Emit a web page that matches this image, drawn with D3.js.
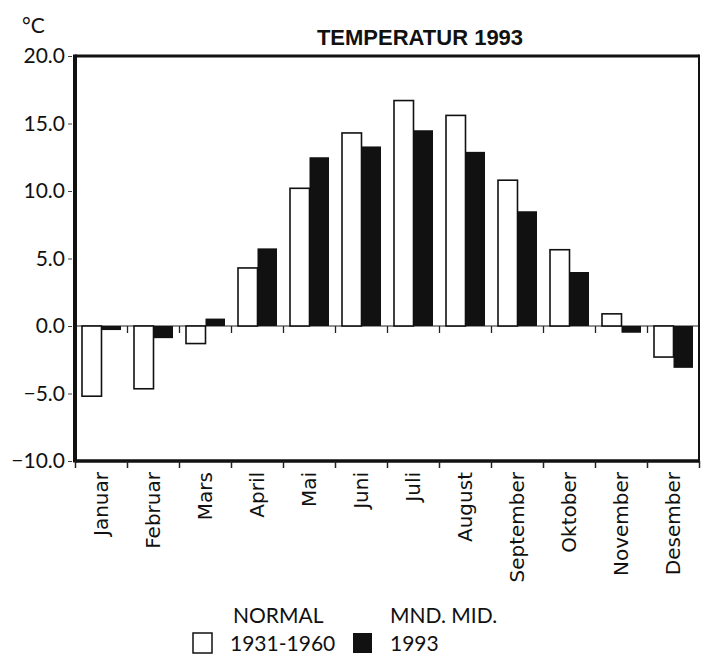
<!DOCTYPE html>
<html>
<head>
<meta charset="utf-8">
<script src="https://cdn.jsdelivr.net/npm/d3@7"></script>
<style>
  html, body { margin: 0; padding: 0; background: #fff; }
  svg { display: block; }
</style>
</head>
<body>
<svg id="chart" width="701" height="659"></svg>
<script>
const months = ["Januar","Februar","Mars","April","Mai","Juni","Juli","August","September","Oktober","November","Desember"];
const normal = [-5.2, -4.65, -1.3, 4.3, 10.2, 14.3, 16.7, 15.6, 10.8, 5.65, 0.9, -2.3];
const mnd1993 = [-0.3, -0.9, 0.55, 5.75, 12.5, 13.3, 14.5, 12.9, 8.5, 4.0, -0.5, -3.1];
const yTicks = [-10, -5, 0, 5, 10, 15, 20];
const seriesKeys = ["normal", "mnd1993"];
const legendTop = ["NORMAL", "MND. MID."];
const legendBottom = ["1931-1960", "1993"];
const title = "TEMPERATUR 1993";
const unit = "°C";

const svg = d3.select("#chart");
const L = 75, R = 699, T = 56, B = 461;

const y = d3.scaleLinear().domain([-10, 20]).range([B, T]);
const x = d3.scaleBand().domain(months).range([L, R]).padding(0);
const x1 = d3.scaleBand().domain(seriesKeys).range([7, 46]).padding(0);
const edges = d3.scaleLinear().domain([0, months.length]).range([L, R]);

const data = months.map((m, i) => ({ month: m, normal: normal[i], mnd1993: mnd1993[i] }));
const colors = { normal: "#fff", mnd1993: "#111" };

// zero line with ticks at band boundaries
svg.append("line")
  .attr("x1", L).attr("x2", R).attr("y1", y(0)).attr("y2", y(0))
  .attr("stroke", "#222").attr("stroke-width", 1.2);
svg.append("g")
  .attr("transform", `translate(0,${y(0)})`)
  .call(d3.axisBottom(edges).tickValues(d3.range(1, months.length)).tickSize(7).tickFormat(""))
  .call(g => g.select(".domain").remove())
  .call(g => g.selectAll("line").attr("stroke", "#222").attr("stroke-width", 1.3));

// bars
const groups = svg.append("g").selectAll("g").data(data).join("g")
  .attr("transform", d => `translate(${x(d.month)},0)`);
groups.selectAll("rect").data(d => seriesKeys.map(k => ({ key: k, value: d[k] }))).join("rect")
  .attr("x", d => x1(d.key))
  .attr("width", x1.bandwidth())
  .attr("y", d => y(Math.max(0, d.value)))
  .attr("height", d => Math.abs(y(d.value) - y(0)))
  .attr("fill", d => colors[d.key])
  .attr("stroke", d => d.key === "normal" ? "#111" : "none")
  .attr("stroke-width", 1.6);

// frame
svg.append("line").attr("x1", L).attr("x2", R).attr("y1", T).attr("y2", T).attr("stroke", "#111").attr("stroke-width", 3);
svg.append("line").attr("x1", L).attr("x2", R).attr("y1", B).attr("y2", B).attr("stroke", "#111").attr("stroke-width", 3.5);
svg.append("line").attr("x1", L).attr("x2", L).attr("y1", T - 1.5).attr("y2", B + 1.5).attr("stroke", "#111").attr("stroke-width", 4);
svg.append("line").attr("x1", R).attr("x2", R).attr("y1", T - 1.5).attr("y2", B + 1.5).attr("stroke", "#111").attr("stroke-width", 2);

// y axis
svg.append("g")
  .attr("transform", `translate(${L - 3},0)`)
  .call(d3.axisLeft(y).tickValues(yTicks).tickFormat(d3.format(".1f")).tickSize(4).tickPadding(3))
  .call(g => g.select(".domain").remove())
  .call(g => g.selectAll("line").attr("stroke", "#444").attr("stroke-width", 1))
  .call(g => g.selectAll("text")
    .attr("font-family", "Lato, 'DejaVu Sans', sans-serif")
    .attr("font-size", 21).attr("fill", "#111"));

// bottom ticks at band boundaries
svg.append("g")
  .attr("transform", `translate(0,${B})`)
  .call(d3.axisBottom(edges).tickValues(d3.range(0, months.length + 1)).tickSize(7).tickFormat(""))
  .call(g => g.select(".domain").remove())
  .call(g => g.selectAll("line").attr("stroke", "#222").attr("stroke-width", 1.5));

// month labels
svg.append("g")
  .attr("transform", `translate(0,${B})`)
  .call(d3.axisBottom(x).tickSize(0))
  .call(g => g.select(".domain").remove())
  .call(g => g.selectAll("text")
    .attr("transform", "rotate(-90)")
    .attr("x", -11).attr("y", 0).attr("dy", "0.36em")
    .attr("text-anchor", "end")
    .attr("font-family", "'DejaVu Sans', sans-serif")
    .attr("font-size", 20).attr("fill", "#111"));

// title and unit
svg.append("text").attr("x", 420).attr("y", 45).attr("text-anchor", "middle")
  .attr("font-family", "'Liberation Sans', Arial, sans-serif").attr("font-weight", "bold")
  .attr("font-size", 22).attr("fill", "#111").text(title);
svg.append("text").attr("x", 22).attr("y", 33)
  .attr("font-family", "Lato, 'DejaVu Sans', sans-serif")
  .attr("font-size", 21).attr("fill", "#111").text(unit);

// legend
const legX = [193, 353];
const textX = [[233, 230], [390, 390]];
const lg = svg.append("g").attr("font-family", "Lato, 'DejaVu Sans', sans-serif").attr("font-size", 21).attr("fill", "#111");
seriesKeys.forEach((k, i) => {
  lg.append("rect").attr("x", legX[i]).attr("y", 633).attr("width", 19).attr("height", 20)
    .attr("fill", colors[k]).attr("stroke", k === "normal" ? "#111" : "none").attr("stroke-width", 1.5);
  lg.append("text").attr("x", textX[i][0]).attr("y", 623).text(legendTop[i]);
  lg.append("text").attr("x", textX[i][1]).attr("y", 651).text(legendBottom[i]);
});
</script>
</body>
</html>
